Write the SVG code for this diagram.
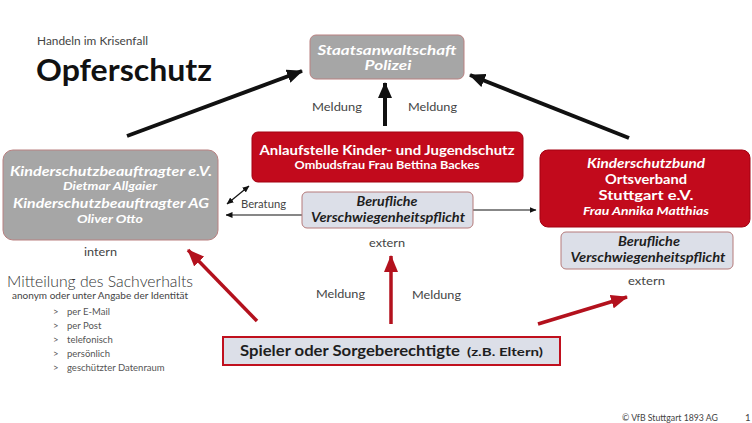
<svg xmlns="http://www.w3.org/2000/svg" width="752" height="423" viewBox="0 0 752 423">
<style>
text{font-family:Lato,"Open Sans","Liberation Sans",sans-serif;}
.w{fill:#ffffff;font-weight:700;text-anchor:middle;}
.wi{fill:#ffffff;font-weight:700;font-style:italic;text-anchor:middle;}
.d{fill:#1e1e1e;text-anchor:middle;}
.lbl{fill:#444444;font-size:12px;}
.gray{fill:#a6a6a6;stroke:#b98080;stroke-width:1;}
.red{fill:#c20a1c;stroke:#a30010;stroke-width:1;}
.light{fill:#dcdfe8;stroke:#b57a7a;stroke-width:1;}
.blk{stroke:#111111;stroke-width:4;fill:none;}
.rd{stroke:#b3111d;stroke-width:3.5;fill:none;}
.thin{stroke:#111111;stroke-width:1.2;fill:none;}
</style>
<defs>
<marker id="ab" markerUnits="userSpaceOnUse" markerWidth="16" markerHeight="14" refX="15" refY="7" orient="auto"><path d="M0,0 L16,7 L0,14 z" fill="#111111"/></marker>
<marker id="ar" markerUnits="userSpaceOnUse" markerWidth="17" markerHeight="14" refX="16" refY="7" orient="auto"><path d="M0,0 L17,7 L0,14 z" fill="#b3111d"/></marker>
<marker id="at" markerUnits="userSpaceOnUse" markerWidth="7" markerHeight="6" refX="6.5" refY="3" orient="auto"><path d="M0,0 L7,3 L0,6 z" fill="#111111"/></marker>
<marker id="ats" markerUnits="userSpaceOnUse" markerWidth="7" markerHeight="6" refX="0.5" refY="3" orient="auto"><path d="M7,0 L0,3 L7,6 z" fill="#111111"/></marker>
</defs>
<rect x="0" y="0" width="752" height="423" fill="#ffffff"/>

<g id="title">
<text x="37" y="45" font-size="11" fill="#444444" textLength="111" lengthAdjust="spacingAndGlyphs">Handeln im Krisenfall</text>
<text x="36" y="81" font-size="30" font-weight="700" fill="#111111" textLength="176" lengthAdjust="spacingAndGlyphs">Opferschutz</text>
</g>

<g id="connectors">
<line class="blk" x1="127" y1="136" x2="302" y2="71" marker-end="url(#ab)"/>
<line class="blk" x1="629" y1="138" x2="470" y2="75" marker-end="url(#ab)"/>
<line class="blk" x1="385" y1="126" x2="385" y2="83" marker-end="url(#ab)"/>
<line class="rd" x1="257" y1="321" x2="188" y2="250" marker-end="url(#ar)"/>
<line class="rd" x1="391" y1="324" x2="391" y2="256" marker-end="url(#ar)"/>
<line class="rd" x1="538" y1="324" x2="627" y2="297" marker-end="url(#ar)"/>
<line class="thin" x1="302" y1="215" x2="226" y2="215" marker-end="url(#at)"/>
<line class="thin" x1="473" y1="210" x2="536" y2="210" marker-end="url(#at)"/>
<line class="thin" x1="227" y1="204" x2="249" y2="186" marker-start="url(#ats)" marker-end="url(#at)"/>
<text class="lbl" x="312" y="111" textLength="50" lengthAdjust="spacingAndGlyphs">Meldung</text>
<text class="lbl" x="408" y="111" textLength="49" lengthAdjust="spacingAndGlyphs">Meldung</text>
<text class="lbl" x="316" y="298" textLength="49" lengthAdjust="spacingAndGlyphs">Meldung</text>
<text class="lbl" x="412" y="299" textLength="49" lengthAdjust="spacingAndGlyphs">Meldung</text>
<text class="lbl" x="241" y="208" font-size="11" textLength="45" lengthAdjust="spacingAndGlyphs">Beratung</text>
</g>

<g id="staatsanwaltschaft">
<rect class="gray" x="310" y="35" width="154" height="44" rx="6"/>
<text class="wi" x="387" y="55" font-size="13.5" textLength="139" lengthAdjust="spacingAndGlyphs">Staatsanwaltschaft</text>
<text class="wi" x="388" y="70" font-size="13.5" textLength="47" lengthAdjust="spacingAndGlyphs">Polizei</text>
</g>

<g id="anlaufstelle">
<rect class="red" x="252" y="132" width="271" height="50" rx="6"/>
<text class="w" x="387" y="155" font-size="14" textLength="255" lengthAdjust="spacingAndGlyphs">Anlaufstelle Kinder- und Jugendschutz</text>
<text class="w" x="387" y="169" font-size="11" textLength="185" lengthAdjust="spacingAndGlyphs">Ombudsfrau Frau Bettina Backes</text>
</g>

<g id="verschwiegenheit-center">
<rect class="light" x="302" y="192" width="171" height="36" rx="5"/>
<text class="d" x="387" y="206" font-size="13" font-style="italic" font-weight="700" textLength="61" lengthAdjust="spacingAndGlyphs">Berufliche</text>
<text class="d" x="388" y="222" font-size="13" font-style="italic" font-weight="700" textLength="154" lengthAdjust="spacingAndGlyphs">Verschwiegenheitspflicht</text>
<text class="lbl" x="369" y="247" textLength="36" lengthAdjust="spacingAndGlyphs">extern</text>
</g>

<g id="kinderschutzbeauftragter">
<rect class="gray" x="3" y="150" width="215" height="90" rx="10"/>
<text class="wi" x="111" y="176" font-size="14" textLength="202" lengthAdjust="spacingAndGlyphs">Kinderschutzbeauftragter e.V.</text>
<text class="wi" x="110" y="190" font-size="11.5" textLength="94" lengthAdjust="spacingAndGlyphs">Dietmar Allgaier</text>
<text class="wi" x="111" y="208" font-size="14" textLength="196" lengthAdjust="spacingAndGlyphs">Kinderschutzbeauftragter AG</text>
<text class="wi" x="110" y="223" font-size="11.5" textLength="66" lengthAdjust="spacingAndGlyphs">Oliver Otto</text>
<text class="lbl" x="84" y="256" textLength="33" lengthAdjust="spacingAndGlyphs">intern</text>
</g>

<g id="kinderschutzbund">
<rect class="red" x="540" y="150" width="210" height="77" rx="8"/>
<text class="wi" x="646" y="168" font-size="13" textLength="118" lengthAdjust="spacingAndGlyphs">Kinderschutzbund</text>
<text class="w" x="646" y="184" font-size="13" textLength="82" lengthAdjust="spacingAndGlyphs">Ortsverband</text>
<text class="w" x="646" y="200" font-size="13" textLength="95" lengthAdjust="spacingAndGlyphs">Stuttgart e.V.</text>
<text class="wi" x="646" y="215" font-size="11" textLength="126" lengthAdjust="spacingAndGlyphs">Frau Annika Matthias</text>
</g>

<g id="verschwiegenheit-right">
<rect class="light" x="561" y="232" width="172" height="37" rx="5"/>
<text class="d" x="649" y="246" font-size="13" font-style="italic" font-weight="700" textLength="62" lengthAdjust="spacingAndGlyphs">Berufliche</text>
<text class="d" x="648" y="262" font-size="13" font-style="italic" font-weight="700" textLength="155" lengthAdjust="spacingAndGlyphs">Verschwiegenheitspflicht</text>
<text class="lbl" x="628" y="285" textLength="37" lengthAdjust="spacingAndGlyphs">extern</text>
</g>

<g id="spieler">
<rect x="223" y="337" width="337" height="28" fill="#dcdfe8" stroke="#c0101e" stroke-width="2"/>
<text x="240" y="356" font-size="16" font-weight="700" fill="#1e1e1e" textLength="220" lengthAdjust="spacingAndGlyphs">Spieler oder Sorgeberechtigte</text>
<text x="467" y="356" font-size="12" font-weight="700" fill="#1e1e1e" textLength="76" lengthAdjust="spacingAndGlyphs">(z.B. Eltern)</text>
</g>

<g id="mitteilung">
<text x="7" y="287" font-size="15" font-weight="300" fill="#333333" textLength="186" lengthAdjust="spacingAndGlyphs">Mitteilung des Sachverhalts</text>
<text x="12" y="299" font-size="10" fill="#444444" textLength="176" lengthAdjust="spacingAndGlyphs">anonym oder unter Angabe der Identität</text>
<g font-size="9.5" fill="#555555">
<text x="53" y="315">&gt;</text><text x="67" y="315">per E-Mail</text>
<text x="53" y="329">&gt;</text><text x="67" y="329">per Post</text>
<text x="53" y="343">&gt;</text><text x="67" y="343">telefonisch</text>
<text x="53" y="357">&gt;</text><text x="67" y="357">persönlich</text>
<text x="53" y="371">&gt;</text><text x="67" y="371">geschützter Datenraum</text>
</g>
</g>

<g id="footer">
<text x="622" y="421" font-size="9.5" fill="#444444" textLength="96" lengthAdjust="spacingAndGlyphs">© VfB Stuttgart 1893 AG</text>
<text x="745" y="421" font-size="9.5" fill="#444444">1</text>
</g>
</svg>
